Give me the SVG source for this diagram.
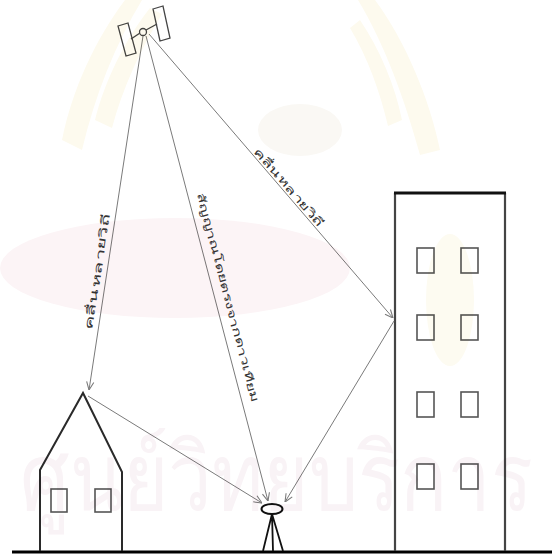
<svg xmlns="http://www.w3.org/2000/svg" width="552" height="554" viewBox="0 0 552 554">
  <style>
    .ray { stroke: #7a7a7a; stroke-width: 1; fill: none; marker-end: url(#tip); }
    .wall { stroke: #2a2a2a; stroke-width: 2; fill: none; }
    .win { stroke: #555; stroke-width: 1.6; fill: none; }
    .lbl { font-family: 'Noto Sans', 'DejaVu Sans', sans-serif; font-size: 11px; fill: #333; }
    .mark { font-family: 'Noto Sans', 'DejaVu Sans', sans-serif; font-size: 78px; fill: #f9f3f6; }
    .glow { fill: #fdfaee; }
    #seal { mix-blend-mode: multiply; }
  </style>
  <defs>
    <marker id="tip" viewBox="0 0 10 10" refX="10" refY="5" markerWidth="9" markerHeight="9" orient="auto" markerUnits="userSpaceOnUse">
      <path d="M1,1 L10,5 L1,9" fill="none" stroke="#7a7a7a" stroke-width="1.2"/>
    </marker>
  </defs>

  <rect width="552" height="554" fill="#fff"/>

  <!-- ground -->
  <line id="ground" x1="12" y1="552" x2="552" y2="552" stroke="#000" stroke-width="3"/>

  <!-- satellite -->
  <g id="satellite" stroke="#444" stroke-width="1.3" fill="#fff">
    <polygon points="118,26 128,23 136,53 126,56"/>
    <polygon points="153,9 163,6 170,38 160,41"/>
    <line x1="131" y1="39" x2="140" y2="33"/>
    <line x1="146" y1="30" x2="157" y2="24"/>
    <circle cx="143" cy="32" r="3.5"/>
  </g>

  <!-- house -->
  <g id="house">
    <path class="wall" d="M40,551 V470 L83,393 L122,472 V551"/>
    <rect class="win" x="51" y="489" width="16" height="23"/>
    <rect class="win" x="95" y="489" width="16" height="23"/>
  </g>

  <!-- tall building -->
  <g id="building">
    <path d="M395,551 V193 M505,193 V551" stroke="#444" stroke-width="2.2" fill="none"/>
    <line x1="394" y1="193" x2="506" y2="193" stroke="#111" stroke-width="3"/>
    <rect class="win" x="417" y="248" width="17" height="25"/>
    <rect class="win" x="461" y="248" width="17" height="25"/>
    <rect class="win" x="417" y="315" width="17" height="25"/>
    <rect class="win" x="461" y="315" width="17" height="25"/>
    <rect class="win" x="417" y="392" width="17" height="25"/>
    <rect class="win" x="461" y="392" width="17" height="25"/>
    <rect class="win" x="417" y="464" width="17" height="25"/>
    <rect class="win" x="461" y="464" width="17" height="25"/>
  </g>

  <!-- GPS receiver on tripod -->
  <g id="receiver">
    <path d="M272,514 L263,551 M272,514 L273,551 M272,514 L283,551" stroke="#111" stroke-width="1.8" fill="none"/>
    <ellipse cx="272" cy="509" rx="10.5" ry="5" fill="#fff" stroke="#111" stroke-width="2"/>
  </g>

  <!-- signal paths -->
  <g id="connectors">
    <line class="ray" x1="143" y1="36" x2="89" y2="390"/>
    <line class="ray" x1="146" y1="36" x2="268" y2="501"/>
    <line class="ray" x1="149" y1="34" x2="393" y2="318"/>
    <line class="ray" x1="88" y1="396" x2="262" y2="503"/>
    <line class="ray" x1="394" y1="321" x2="285" y2="502"/>
  </g>

  <!-- labels -->
  <g id="labels">
    <text class="lbl" transform="translate(101,272) rotate(-81.3)" text-anchor="middle" textLength="118" lengthAdjust="spacingAndGlyphs">คลื่นหลายวิถี</text>
    <text class="lbl" transform="translate(224,298) rotate(75.2)" text-anchor="middle" textLength="215" lengthAdjust="spacingAndGlyphs">สัญญาณโดยตรงจากดาวเทียม</text>
    <text class="lbl" transform="translate(286,190) rotate(49.3)" text-anchor="middle" textLength="100" lengthAdjust="spacingAndGlyphs">คลื่นหลายวิถี</text>
  </g>

  <!-- pale seal printed over the whole sheet -->
  <g id="seal">
    <path class="glow" d="M62,140 C72,90 95,40 125,0 L142,0 C115,45 95,95 82,150 Z"/>
    <path class="glow" d="M95,120 C105,80 125,40 150,8 L162,14 C140,50 122,90 112,128 Z"/>
    <path class="glow" d="M440,150 C430,100 405,40 375,0 L358,0 C385,45 405,100 420,155 Z"/>
    <path class="glow" d="M402,120 C395,85 380,50 360,20 L350,28 C368,58 380,92 388,126 Z"/>
    <ellipse cx="300" cy="130" rx="42" ry="26" fill="#faf8f4"/>
    <ellipse cx="175" cy="268" rx="175" ry="50" fill="#fcf4f6"/>
    <ellipse cx="450" cy="300" rx="24" ry="66" fill="#fdfbf1"/>
    <text class="mark" transform="translate(276,510) scale(1,1.2)" text-anchor="middle">ศูนย์วิทยบริการ</text>
  </g>
</svg>
